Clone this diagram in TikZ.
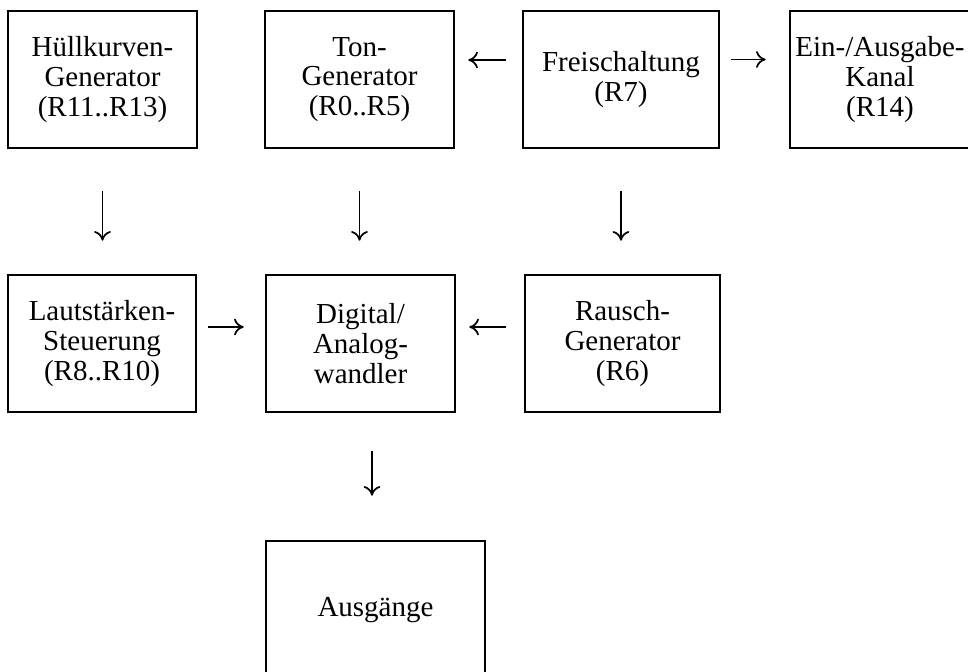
\documentclass[tikz,border=0pt]{standalone}
\usepackage{fontspec}
\setmainfont{Liberation Serif}
\usetikzlibrary{arrows.meta}
\tikzset{myBox/.style={draw, line width=1.5pt, inner sep=2pt, align=center, font=\fontsize{16.5}{17}\selectfont}}
\tikzset{myArrow/.style={line width=1pt, -{To[length=5.5pt,width=9.5pt]}}}
\begin{document}
\begin{tikzpicture}[x=0.02cm,y=-0.02cm]
		\useasboundingbox (0,0) rectangle (968,672);
		% obere Reihe
		\node[myBox, minimum width=3.78cm, minimum height=2.74cm] (huell) at (102.5,79.5) {Hüllkurven-\\Generator\\(R11..R13)};
		\node[myBox, minimum width=3.78cm, minimum height=2.74cm] (ton) at (359.5,79.5) {Ton-\\Generator\\(R0..R5)};
		\node[myBox, minimum width=3.92cm, minimum height=2.74cm] (frei) at (621,79.5) {Freischaltung\\(R7)};
		\node[myBox, minimum width=3.6cm, minimum height=2.74cm] (einaus) at (880,79.5) {Ein-/Ausgabe-\\Kanal\\(R14)};
		% untere Reihe
		\node[myBox, minimum width=3.76cm, minimum height=2.74cm] (laut) at (102,343.5) {Lautstärken-\\Steuerung\\(R8..R10)};
		\node[myBox, minimum width=3.78cm, minimum height=2.74cm] (dawandler) at (360.5,343.5) {Digital/\\Analog-\\wandler};
		\node[myBox, minimum width=3.9cm, minimum height=2.74cm] (rausch) at (622.5,343.5) {Rausch-\\Generator\\(R6)};
		\node[myBox, minimum width=4.38cm, minimum height=2.78cm] (ausg) at (375.5,610.5) {Ausgänge};
		
		\draw[myArrow, shorten <=0.32cm, shorten >=0.26cm]([yshift=0.39cm]frei.west) -- ([yshift=0.39cm]ton.east);
		\draw[myArrow, shorten <=0.22cm, shorten >=0.46cm]([yshift=0.4cm]frei.east) -- ([yshift=0.4cm]einaus.west);
		\draw[myArrow, shorten <=0.84cm, shorten >=0.66cm](huell.south) -- (huell.south |- laut.north);
		\draw[myArrow, shorten <=0.84cm, shorten >=0.66cm](ton.south) -- (ton.south |- dawandler.north);
		\draw[myArrow, shorten <=0.84cm, shorten >=0.66cm](frei.south) -- (frei.south |- rausch.north);
		\draw[myArrow, shorten <=0.22cm, shorten >=0.42cm]([yshift=0.33cm]laut.east) -- ([yshift=0.33cm]dawandler.west);
		\draw[myArrow, shorten <=0.36cm, shorten >=0.26cm]([yshift=0.33cm]rausch.west) -- ([yshift=0.33cm]dawandler.east);
		\draw[myArrow, shorten <=0.76cm, shorten >=0.88cm]([xshift=-0.07cm]dawandler.south -| ausg.north) -- ([xshift=-0.07cm]ausg.north);
		
	\end{tikzpicture}
\end{document}
